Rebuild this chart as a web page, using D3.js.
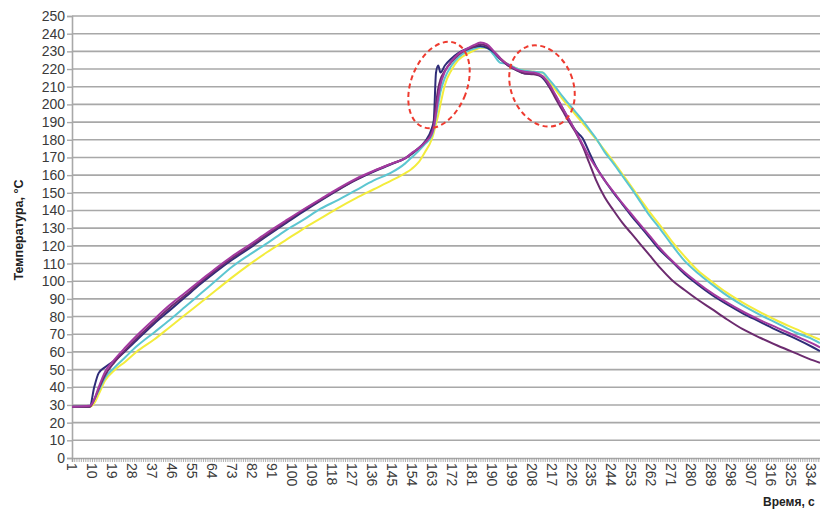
<!DOCTYPE html>
<html>
<head>
<meta charset="utf-8">
<script src="https://cdn.jsdelivr.net/npm/d3@7"></script>
<style>
  html, body { margin: 0; padding: 0; background: #fff; }
  svg { display: block; }
  text { font-family: "Liberation Sans", Arial, sans-serif; }
</style>
</head>
<body>
<svg id="chart" width="820" height="512"></svg>
<script>
// ---- data ----
const time = [1, 9, 11, 13, 16, 20, 25, 30, 38, 45, 52, 59, 66, 73, 81, 89, 97, 105, 113, 121, 129, 137, 145,
  151, 154, 157, 160, 163, 164, 165, 166, 167, 169, 172, 175, 179, 182, 185, 188, 191, 194, 197,
  201, 205, 209, 213, 216, 219, 222, 225, 228, 231, 234, 237, 241, 245, 249, 253, 257, 261,
  266, 271, 277, 283, 289, 296, 303, 311, 319, 327, 335, 338];

const seriesNavy = [29, 29, 40, 48, 51.5, 55, 60.5, 66.5, 76, 83.5, 91, 98.5, 105.5, 112, 118.7, 125.7, 132.5, 139.2, 145.6, 151.7, 157.3, 162, 166.3,
  169.5, 172, 175, 179, 186, 191, 218, 222, 218, 222, 226, 229, 231.5, 232.5, 233, 232, 229.5, 225.5, 222.5,
  219.5, 217.5, 217.5, 215, 210, 204.5, 198, 191, 185, 181, 173, 165, 157, 150, 143.5, 137, 131, 125,
  117.5, 111.5, 104, 98, 92.5, 87, 82, 77, 72, 67.5, 62.5, 60.5];

const seriesMagenta = [29, 29.5, 33, 40, 49, 55.5, 62.5, 69, 78.5, 86.5, 93.5, 100.5, 107.5, 114, 120.6, 127.5, 134, 140.4, 146.5, 152.5, 158, 162.5, 166.5,
  169.5, 172.5, 175, 178.5, 183, 187, 195, 204, 211, 218.5, 224.5, 228.5, 231.5, 233.5, 235, 234, 230, 226, 223,
  220, 218.5, 218, 216, 211.5, 205, 198, 191.5, 184.5, 177.5, 170.5, 164.5, 157, 150.5, 144, 138, 132, 126,
  118.5, 112, 105, 99, 93.5, 88, 83, 78, 73.5, 69, 64.5, 62.5];

const seriesPurple = [29, 29, 33, 39, 47, 54, 61, 67.5, 77, 85, 92, 99.5, 106.5, 113, 119.5, 126.5, 133.3, 140, 146, 152, 157.5, 162.3, 166.5,
  169.5, 172, 175, 178.5, 184, 189, 200, 209, 214, 219, 224, 228, 231, 232.5, 234, 233, 230, 226, 222.5,
  219.5, 217.5, 217, 215.5, 210, 203, 196.5, 190, 184, 176.5, 167, 157.5, 147.5, 140, 133, 127, 121, 115,
  107.5, 101, 95, 89.5, 84.5, 78.5, 73, 68, 63.5, 59.3, 55.2, 53.8];

const seriesCyan = [29, 29.5, 33, 38, 45.5, 51, 57, 63, 71, 78, 85.5, 93, 100.5, 108, 115, 121.5, 128.5, 134.5, 141, 146, 151.5, 157, 161.5,
  166.5, 170, 173.5, 177.5, 182, 186, 193, 200, 207, 215, 222, 226.5, 230, 231.5, 232.5, 232, 228, 223.5, 223,
  220.5, 219, 218.5, 218, 214, 209.5, 204.5, 200, 195.5, 191, 186, 181, 173, 166.5, 159.5, 152.5, 145, 137.5,
  129.5, 121, 111.5, 104.5, 98.5, 92, 86.5, 81, 76, 71, 67, 65];

const seriesYellow = [29, 29, 31, 36, 44, 49.5, 54.5, 60, 67, 74, 81, 88, 95, 102, 109.5, 116.5, 123, 129.5, 135.5, 141.5, 147, 152, 157,
  161, 163.5, 167, 173, 180, 184, 189, 194, 200, 211, 219.5, 225, 228.5, 230.5, 232, 232, 229.5, 226, 223,
  220.5, 219, 218.5, 218, 213, 208, 203, 198.5, 194, 189.5, 185, 180.5, 174, 167.5, 160.5, 153.5, 146.5, 139.5,
  131.5, 123, 114, 106, 100, 93.5, 88, 82.5, 77.5, 73, 68.5, 67];

const yTickValues = [0, 10, 20, 30, 40, 50, 60, 70, 80, 90, 100, 110, 120, 130, 140, 150, 160, 170, 180, 190, 200, 210, 220, 230, 240, 250];
const xTickLabels = [1, 10, 19, 28, 37, 46, 55, 64, 73, 82, 91, 100, 109, 118, 127, 136, 145, 154, 163, 172, 181, 190, 199,
  208, 217, 226, 235, 244, 253, 262, 271, 280, 289, 298, 307, 316, 325, 334];
const lastCategory = 338;

const yTitle = "Температура, °С";
const xTitle = "Время, с";

const seriesList = [
  { name: "yellow", values: seriesYellow, color: "#f3ec3c" },
  { name: "cyan", values: seriesCyan, color: "#5cc6d1" },
  { name: "navy", values: seriesNavy, color: "#2e2c78" },
  { name: "purple", values: seriesPurple, color: "#6c2b6f" },
  { name: "magenta", values: seriesMagenta, color: "#a43aa0" }
];

// ---- chart ----
const svg = d3.select("#chart");
const mLeft = 72, mRight = 820, mTop = 16, mBottom = 458;
const x = d3.scaleLinear().domain([1, lastCategory]).range([mLeft, mRight]);
const y = d3.scaleLinear().domain([0, 250]).range([mBottom, mTop]);

const gridColor = "#a8a8a8";
const textColor = "#3a3a3a";

// gridlines
svg.append("g").selectAll("line").data(yTickValues.filter(d => d > 0)).join("line")
  .attr("x1", mLeft).attr("x2", 820)
  .attr("y1", d => y(d)).attr("y2", d => y(d))
  .attr("stroke", gridColor).attr("stroke-width", 1.6);

// y axis
const yAxis = svg.append("g").attr("transform", `translate(${mLeft},0)`)
  .call(d3.axisLeft(y).tickValues(yTickValues).tickSize(5).tickPadding(2));
yAxis.select(".domain").attr("stroke", gridColor).attr("stroke-width", 1.6);
yAxis.selectAll(".tick line").attr("stroke", gridColor).attr("stroke-width", 1.4);
yAxis.selectAll(".tick text").attr("fill", textColor).style("font-size", "14px")
  .style("font-family", "'Liberation Sans', Arial, sans-serif");

// x axis: minor ticks for each category
const cats = d3.range(1, lastCategory + 1);
const xAxis = svg.append("g").attr("transform", `translate(0,${mBottom})`)
  .call(d3.axisBottom(x).tickValues(cats).tickSize(4).tickFormat(""));
xAxis.select(".domain").attr("stroke", gridColor).attr("stroke-width", 1.6);
xAxis.selectAll(".tick line").attr("stroke", "#9a9a9a").attr("stroke-width", 0.8);

// x labels rotated
svg.append("g").selectAll("text").data(xTickLabels).join("text")
  .attr("transform", d => `translate(${x(d)},${mBottom + 5}) rotate(90)`)
  .attr("text-anchor", "start")
  .attr("dy", "0.35em")
  .attr("fill", textColor)
  .style("font-size", "14px")
  .text(d => d);

// series lines
const line = d3.line()
  .x((d, i) => x(time[i]))
  .y(d => y(d))
  .curve(d3.curveMonotoneX);

svg.append("g").selectAll("path").data(seriesList).join("path")
  .attr("d", s => line(s.values))
  .attr("fill", "none")
  .attr("stroke", s => s.color)
  .attr("stroke-width", 2)
  .attr("stroke-linejoin", "round");

// red dashed ellipses
svg.append("ellipse")
  .attr("cx", 0).attr("cy", 0).attr("rx", 28).attr("ry", 45)
  .attr("transform", "translate(439,85) rotate(21)")
  .attr("fill", "none").attr("stroke", "#ee3b30").attr("stroke-width", 2)
  .attr("stroke-dasharray", "5,3.5");
svg.append("ellipse")
  .attr("cx", 0).attr("cy", 0).attr("rx", 31).attr("ry", 42)
  .attr("transform", "translate(542,86) rotate(-22)")
  .attr("fill", "none").attr("stroke", "#ee3b30").attr("stroke-width", 2)
  .attr("stroke-dasharray", "5,3.5");

// axis titles
svg.append("text")
  .attr("transform", "translate(19,230) rotate(-90)")
  .attr("text-anchor", "middle")
  .attr("dy", "0.35em")
  .attr("fill", "#222")
  .style("font-size", "12.5px").style("font-weight", "bold")
  .text(yTitle);

svg.append("text")
  .attr("x", 763).attr("y", 506)
  .attr("fill", "#222")
  .style("font-size", "12px").style("font-weight", "bold")
  .text(xTitle);
</script>
</body>
</html>
